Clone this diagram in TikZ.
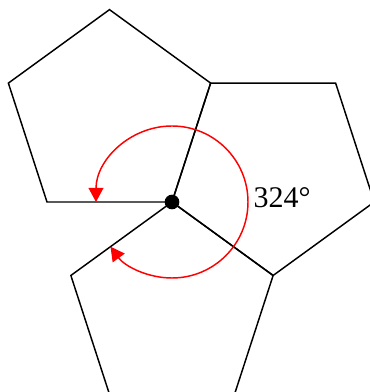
\documentclass[tikz,border=0pt]{standalone}
\usepackage{fontspec}
\setmainfont{Liberation Serif}
\usepackage{tikz}
\usetikzlibrary{
    positioning,
    arrows.meta,
}

\begin{document}
\begin{tikzpicture}[
    x=0.75pt, y=0.75pt,
    edge/.style={draw, line width=1.1pt, line join=miter},
    turn/.style={red, line width=1.1pt, {Triangle[length=10.5pt, width=11pt]}-{Triangle[length=10.5pt, width=11pt]}},
    vertex/.style={circle, fill=black, minimum size=11pt, inner sep=0pt},
    angle label/.style={font=\fontsize{22.5}{26}\selectfont},
]
    % Frame
    \clip (-172, -190) rectangle (198, 202);

    % Shared vertex
    \coordinate (c) at (0, 0);

    % Pentagons
    \draw[edge] (c) -- ++(180:125) -- ++(108:125) -- ++(36:125) -- ++(-36:125) -- cycle;
    \draw[edge] (c) -- ++(72:125) -- ++(0:125) -- ++(-72:125) -- ++(-144:125) -- cycle;
    \draw[edge] (c) -- ++(-36:125) -- ++(-108:125) -- ++(180:125) -- ++(108:125) -- cycle;

    % Angle sum
    \draw[turn] (c) ++(180:76) arc[start angle=180, end angle=-144, radius=76];
    \node[vertex] (v) at (c) {};
    \node[angle label] (sum) at (110, 4) {324°};
\end{tikzpicture}
\end{document}
